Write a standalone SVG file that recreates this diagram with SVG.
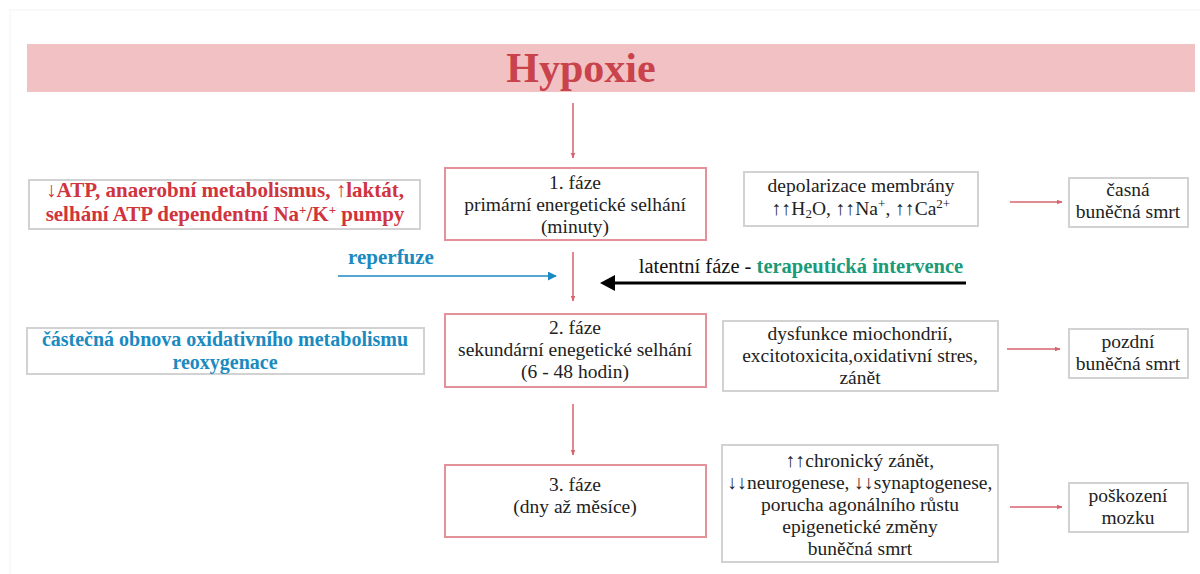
<svg xmlns="http://www.w3.org/2000/svg" width="1200" height="574" viewBox="0 0 1200 574">
<style>
.t{font-family:"Liberation Serif","Times New Roman",serif;font-size:19.5px;fill:#222;text-anchor:middle}
.b{font-family:"Liberation Serif","Times New Roman",serif;font-weight:bold;font-size:21px;text-anchor:middle}
.red{fill:#d0343d}
.blue{fill:#1a8ac0}
.teal{fill:#1a9a78}
.rbox{fill:#fff;stroke:#e3929a;stroke-width:2}
.gbox{fill:#fff;stroke:#d2d2d2;stroke-width:2}
.rc{stroke:#d9636d;stroke-width:1.5;fill:none}
.sup{font-size:13px}
</style>
<defs>
<marker id="ar" viewBox="0 0 10 10" refX="9" refY="5" markerWidth="4" markerHeight="4" orient="auto" markerUnits="strokeWidth"><path d="M0,1 L10,5 L0,9 z" fill="#d9636d"/></marker>
<marker id="ab" viewBox="0 0 10 10" refX="9" refY="5" markerWidth="6" markerHeight="6" orient="auto" markerUnits="strokeWidth"><path d="M0,0 L10,5 L0,10 z" fill="#1a8ac0"/></marker>
</defs>
<rect x="0" y="0" width="1200" height="574" fill="#fff"/>
<rect x="10" y="10" width="1195" height="570" fill="none" stroke="#f3f3f3" stroke-width="1"/>
<g id="title">
<rect x="27" y="44" width="1168" height="48" fill="#f2c1c4"/>
<text x="581" y="82" style="font-family:'Liberation Serif','Times New Roman',serif;font-weight:bold;font-size:42px;fill:#c8434b;text-anchor:middle">Hypoxie</text>
</g>
<g id="connectors">
<line class="rc" x1="573" y1="103" x2="573" y2="158" marker-end="url(#ar)"/>
<line class="rc" x1="573" y1="252" x2="573" y2="301" marker-end="url(#ar)"/>
<line class="rc" x1="573" y1="404" x2="573" y2="455" marker-end="url(#ar)"/>
<line class="rc" x1="1010" y1="202" x2="1062" y2="202" marker-end="url(#ar)"/>
<line class="rc" x1="1007" y1="349" x2="1060" y2="349" marker-end="url(#ar)"/>
<line class="rc" x1="1010" y1="507" x2="1062" y2="507" marker-end="url(#ar)"/>
<line x1="338" y1="276" x2="556" y2="276" stroke="#1a8ac0" stroke-width="1.5" marker-end="url(#ab)"/>
<line x1="966" y1="283" x2="612" y2="283" stroke="#000" stroke-width="3"/>
<polygon points="600,283 615,275 615,291" fill="#000"/>
</g>
<g id="phase1">
<rect class="rbox" x="445" y="168" width="261" height="72"/>
<text class="t" x="575" y="189">1. fáze</text>
<text class="t" x="575" y="211">primární energetické selhání</text>
<text class="t" x="575" y="233">(minuty)</text>
</g>
<g id="phase2">
<rect class="rbox" x="445" y="314" width="261" height="73"/>
<text class="t" x="575" y="334">2. fáze</text>
<text class="t" x="575" y="356">sekundární enegetické selhání</text>
<text class="t" x="575" y="378">(6 - 48 hodin)</text>
</g>
<g id="phase3">
<rect class="rbox" x="445" y="465" width="261" height="72"/>
<text class="t" x="575" y="491">3. fáze</text>
<text class="t" x="575" y="513">(dny až měsíce)</text>
</g>
<g id="atp">
<rect class="gbox" x="29" y="180" width="391" height="49"/>
<text class="b red" x="225" y="197">↓ATP, anaerobní metabolismus, ↑laktát,</text>
<text class="b red" x="225" y="221">selhání ATP dependentní Na<tspan class="sup" baseline-shift="super">+</tspan>/K<tspan class="sup" baseline-shift="super">+</tspan> pumpy</text>
</g>
<g id="reperfuze">
<text class="b blue" x="391" y="264">reperfuze</text>
</g>
<g id="latent">
<text x="801" y="273" style="font-family:'Liberation Serif','Times New Roman',serif;font-size:20.5px;fill:#111;text-anchor:middle">latentní fáze - <tspan class="teal" font-weight="bold">terapeutická intervence</tspan></text>
</g>
<g id="reoxy">
<rect class="gbox" x="27" y="328" width="397" height="46"/>
<text class="b blue" x="225" y="346" style="font-size:20px">částečná obnova oxidativního metabolismu</text>
<text class="b blue" x="225" y="369" style="font-size:20px">reoxygenace</text>
</g>
<g id="depol">
<rect class="gbox" x="744" y="172" width="234" height="54"/>
<text class="t" x="861" y="192">depolarizace membrány</text>
<text class="t" x="861" y="215">↑↑H<tspan class="sup" baseline-shift="-3">2</tspan>O, ↑↑Na<tspan class="sup" baseline-shift="super">+</tspan>, ↑↑Ca<tspan class="sup" baseline-shift="super">2+</tspan></text>
</g>
<g id="casna">
<rect class="gbox" x="1069" y="178" width="119" height="49" stroke-width="1.5"/>
<text class="t" x="1128" y="196">časná</text>
<text class="t" x="1128" y="218">buněčná smrt</text>
</g>
<g id="dysf">
<rect class="gbox" x="723" y="321" width="275" height="70"/>
<text class="t" x="860" y="340">dysfunkce miochondrií,</text>
<text class="t" x="860" y="362">excitotoxicita,oxidativní stres,</text>
<text class="t" x="860" y="384">zánět</text>
</g>
<g id="pozdni">
<rect class="gbox" x="1069" y="329" width="119" height="49" stroke-width="1.5"/>
<text class="t" x="1128" y="348">pozdní</text>
<text class="t" x="1128" y="370">buněčná smrt</text>
</g>
<g id="chron">
<rect class="gbox" x="722" y="445" width="276" height="117"/>
<text class="t" x="860" y="467">↑↑chronický zánět,</text>
<text class="t" x="860" y="489">↓↓neurogenese, ↓↓synaptogenese,</text>
<text class="t" x="860" y="511">porucha agonálního růstu</text>
<text class="t" x="860" y="533">epigenetické změny</text>
<text class="t" x="860" y="555">buněčná smrt</text>
</g>
<g id="poskozeni">
<rect class="gbox" x="1069" y="483" width="119" height="49" stroke-width="1.5"/>
<text class="t" x="1128" y="502">poškození</text>
<text class="t" x="1128" y="524">mozku</text>
</g>
</svg>
